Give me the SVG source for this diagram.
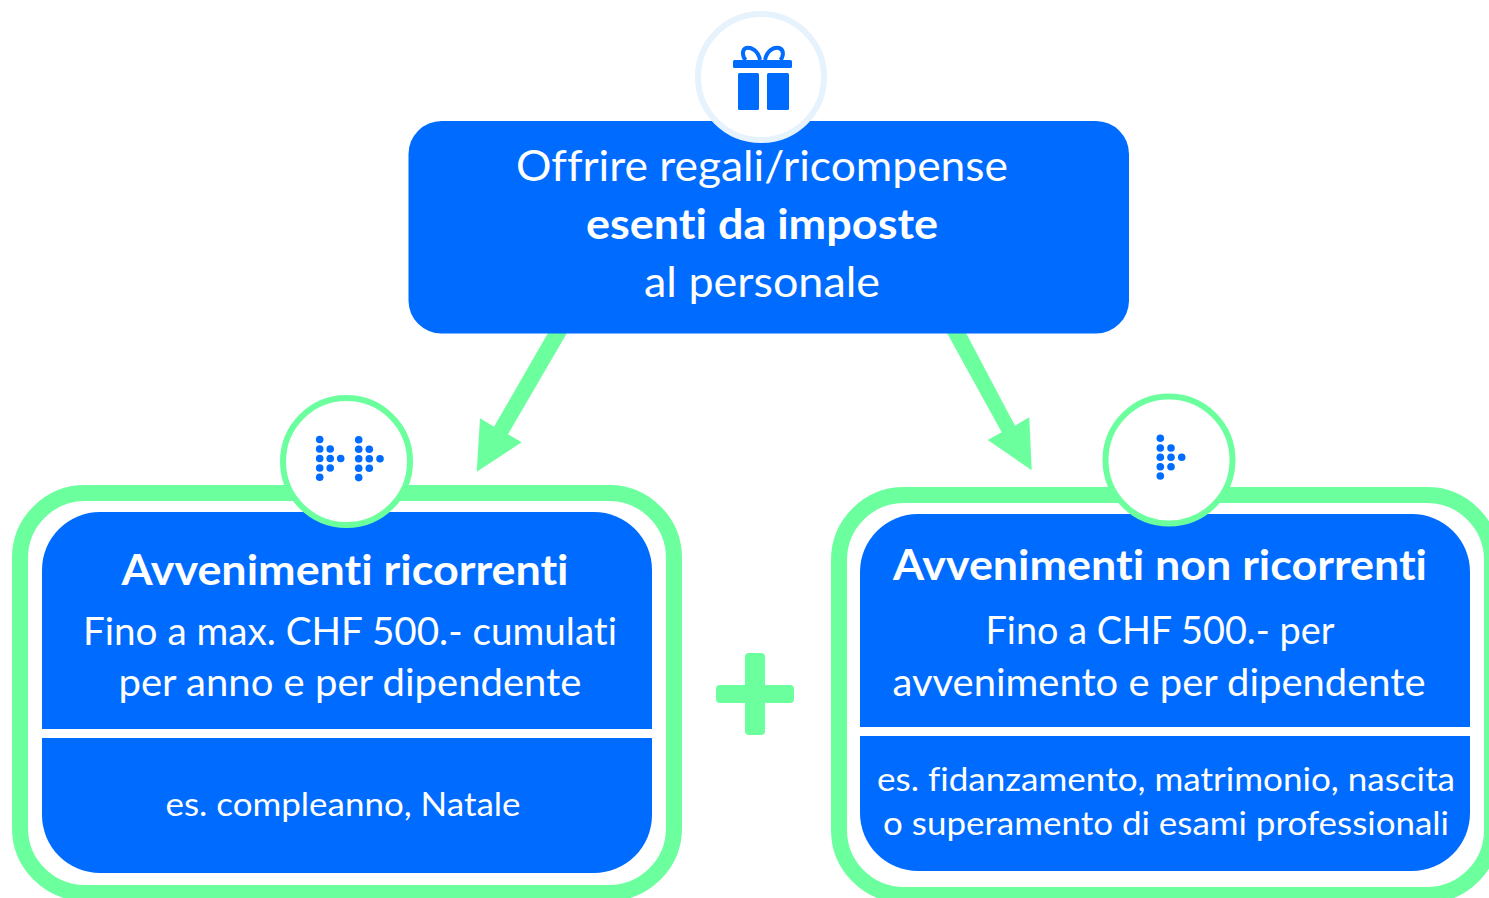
<svg xmlns="http://www.w3.org/2000/svg" width="1489" height="898" viewBox="0 0 1489 898">
<style>
text{font-family:"Lato","Open Sans","Liberation Sans",sans-serif;fill:#fff;text-anchor:middle;font-variant-ligatures:none}
.h{font-size:42px}.b{font-weight:700}.t{font-size:38.5px}.s{font-size:33.5px}
.blue{fill:#006cff}.line{fill:none;stroke:#6cff9e;stroke-width:16}
.badge{fill:#fff;stroke:#6cff9e;stroke-width:6}
</style>
<rect width="1489" height="898" fill="#fff"/>
<g id="connectors" fill="#6cff9e">
<polygon points="548,333 567,333 508,434.3 521.7,442.3 476.7,471.7 480,418.3 494,426.7"/>
<polygon points="947,333 966,333 1015,425.7 1029.3,417.3 1031.7,470.3 987.7,440 1001.7,432.3"/>
</g>
<g id="top-node">
<rect class="blue" x="408.5" y="121" width="720.5" height="212.5" rx="33"/>
<text class="h" x="762" y="181" textLength="492" lengthAdjust="spacingAndGlyphs">Offrire regali/ricompense</text>
<text class="h b" x="762" y="239" textLength="352" lengthAdjust="spacingAndGlyphs">esenti da imposte</text>
<text class="h" x="762" y="297" textLength="236" lengthAdjust="spacingAndGlyphs">al personale</text>
<circle cx="761" cy="77" r="63" fill="#fff" stroke="#e6f2fc" stroke-width="6"/>
<g class="blue">
<rect x="733" y="60" width="59" height="8" rx="1.5"/>
<rect x="738" y="73" width="21" height="37" rx="1.5"/>
<rect x="767" y="73" width="22" height="37" rx="1.5"/>
</g>
<path d="M760 60C758 50 751 47 746 48C741 50 743 58 746 60M765 60C767 50 774 47 779 48C785 50 783 58 780 60" fill="none" stroke="#006cff" stroke-width="4"/>
</g>
<g id="left-node">
<rect class="line" x="20" y="493" width="654" height="400" rx="65"/>
<rect class="blue" x="42" y="512" width="610" height="361" rx="58"/>
<rect x="42" y="729" width="610" height="9" fill="#fff"/>
<text class="h b" x="345" y="585" textLength="447" lengthAdjust="spacingAndGlyphs">Avvenimenti ricorrenti</text>
<text class="t" x="350" y="645" textLength="534" lengthAdjust="spacingAndGlyphs">Fino a max. CHF 500.- cumulati</text>
<text class="t" x="350" y="696" textLength="463" lengthAdjust="spacingAndGlyphs">per anno e per dipendente</text>
<text class="s" x="343" y="816" textLength="355" lengthAdjust="spacingAndGlyphs">es. compleanno, Natale</text>
<circle class="badge" cx="346.5" cy="461.5" r="63.5"/>
<g class="blue">
<circle cx="319.7" cy="439.5" r="3.8"/><circle cx="319.7" cy="449" r="3.8"/><circle cx="319.7" cy="458.5" r="3.8"/><circle cx="319.7" cy="468" r="3.8"/><circle cx="319.7" cy="477.3" r="3.8"/>
<circle cx="330.2" cy="449" r="3.8"/><circle cx="330.2" cy="458.5" r="3.8"/><circle cx="330.2" cy="468" r="3.8"/><circle cx="340.7" cy="458.5" r="3.8"/>
<circle cx="358.7" cy="439.7" r="3.8"/><circle cx="358.7" cy="449.3" r="3.8"/><circle cx="358.7" cy="458.7" r="3.8"/><circle cx="358.7" cy="468.2" r="3.8"/><circle cx="358.7" cy="477.6" r="3.8"/>
<circle cx="369.3" cy="449.3" r="3.8"/><circle cx="369.3" cy="458.7" r="3.8"/><circle cx="369.3" cy="468.2" r="3.8"/><circle cx="380" cy="458.7" r="3.8"/>
</g>
</g>
<g id="plus">
<rect x="716" y="685" width="78" height="18" rx="4" fill="#6cff9e"/>
<rect x="745" y="653" width="20" height="82" rx="4" fill="#6cff9e"/>
</g>
<g id="right-node">
<rect class="line" x="839" y="495" width="653" height="400" rx="65"/>
<rect class="blue" x="860" y="514" width="610" height="357" rx="58"/>
<rect x="860" y="727" width="610" height="9" fill="#fff"/>
<text class="h b" x="1160" y="580" textLength="534" lengthAdjust="spacingAndGlyphs">Avvenimenti non ricorrenti</text>
<text class="t" x="1160" y="644" textLength="349" lengthAdjust="spacingAndGlyphs">Fino a CHF 500.- per</text>
<text class="t" x="1159" y="696" textLength="533" lengthAdjust="spacingAndGlyphs">avvenimento e per dipendente</text>
<text class="s" x="1166" y="791" textLength="578" lengthAdjust="spacingAndGlyphs">es. fidanzamento, matrimonio, nascita</text>
<text class="s" x="1166" y="835" textLength="566" lengthAdjust="spacingAndGlyphs">o superamento di esami professionali</text>
<circle class="badge" cx="1169" cy="460" r="63.5"/>
<g class="blue">
<circle cx="1160.3" cy="438.3" r="3.8"/><circle cx="1160.3" cy="448" r="3.8"/><circle cx="1160.3" cy="457.3" r="3.8"/><circle cx="1160.3" cy="466.7" r="3.8"/><circle cx="1160.3" cy="476" r="3.8"/>
<circle cx="1171" cy="448" r="3.8"/><circle cx="1171" cy="457.3" r="3.8"/><circle cx="1171" cy="466.7" r="3.8"/><circle cx="1181.7" cy="457.3" r="3.8"/>
</g>
</g>
</svg>
